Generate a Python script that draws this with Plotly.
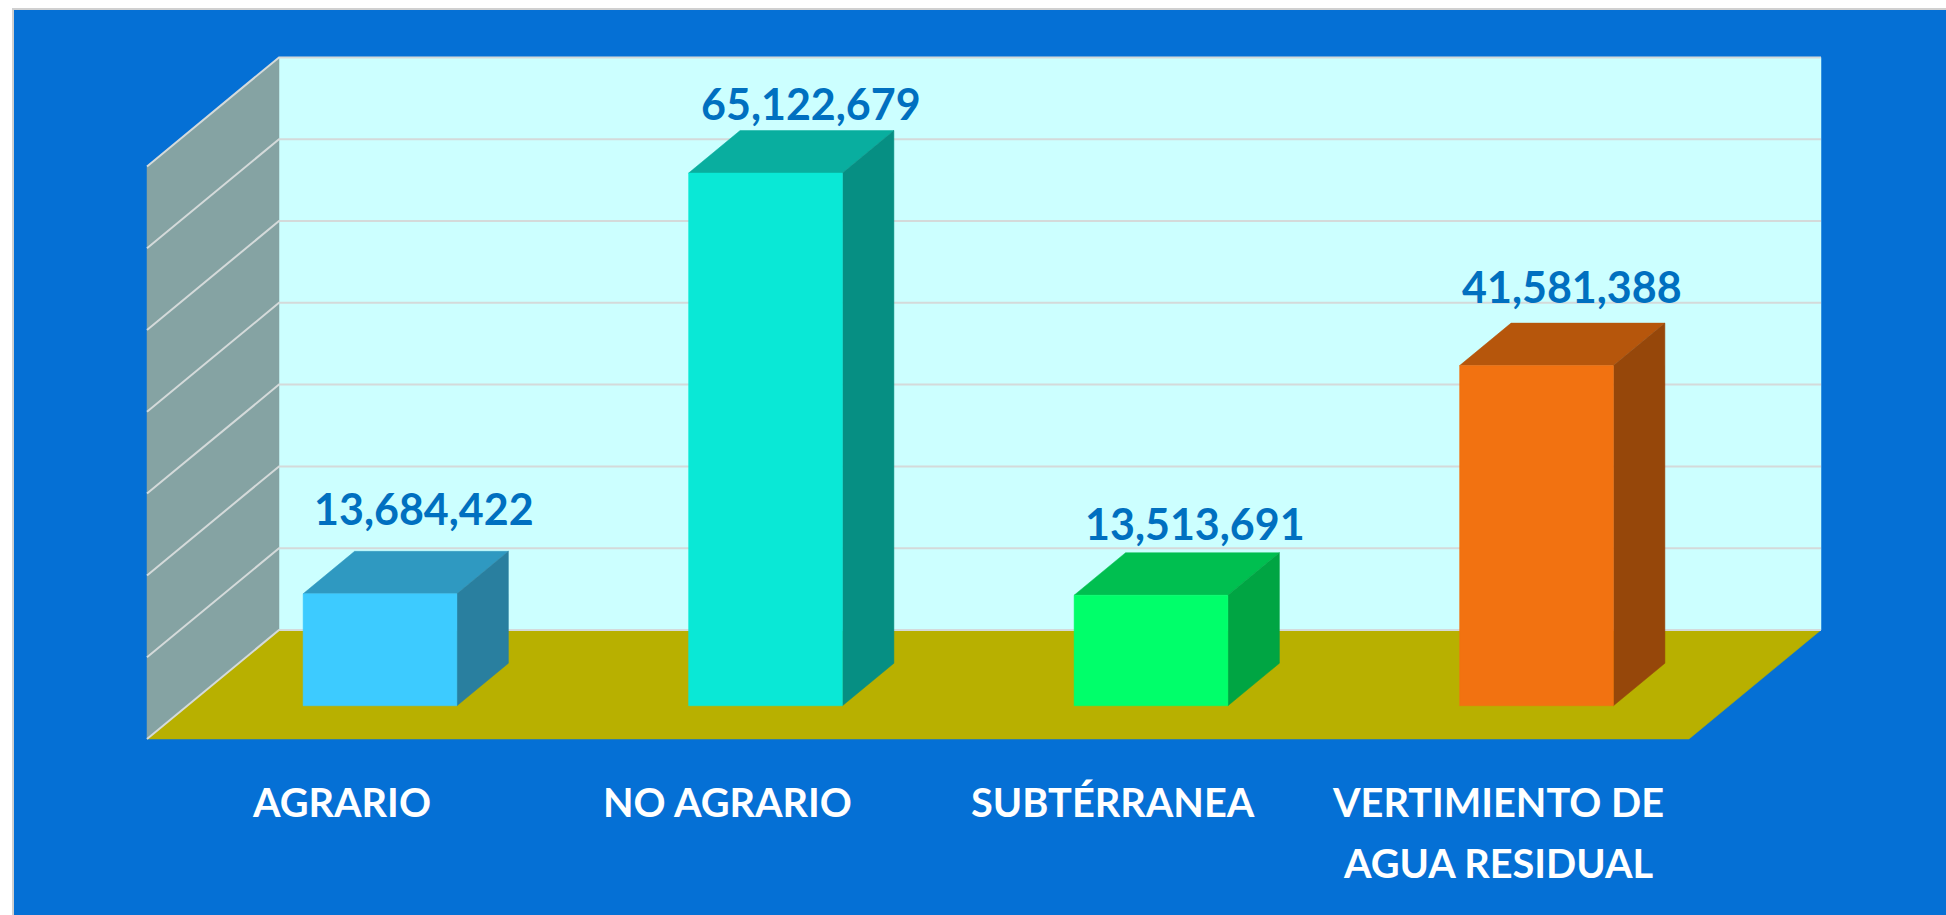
import plotly.graph_objects as go

categories = ["AGRARIO", "NO AGRARIO", "SUBTÉRRANEA", "VERTIMIENTO DE\nAGUA RESIDUAL"]
values = [13684422, 65122679, 13513691, 41581388]
value_labels = ["13,684,422", "65,122,679", "13,513,691", "41,581,388"]
gridline_values = [0, 10e6, 20e6, 30e6, 40e6, 50e6, 60e6, 70e6]

front_colors = ["#3DCBFF", "#0AE8D6", "#00FF6A", "#F27211"]
top_colors = ["#2F99C1", "#09AE9F", "#00BF50", "#B6560C"]
side_colors = ["#297F9F", "#068F83", "#00A543", "#96470A"]

# picture geometry (pixels), used only to fix the axis ranges and the oblique projection
W, H = 1946, 915
LEFT, TOP = 14, 10
X0_PX, Y0_PX = 147, 739          # front-left corner of the floor
PX_PER_CAT = 385.5
PX_PER_VAL = 8.18e-6
DEPTH_DX = 132 / PX_PER_CAT      # category units for a full depth
DEPTH_DY = 109 / PX_PER_VAL      # value units for a full depth
BAR_WIDTH = 0.399
BAR_D0, BAR_D1 = 0.305, 0.695
N = len(categories)
VMAX = gridline_values[-1]

BLUE = "#0570D5"
WALL = "#CCFFFF"
SIDEWALL = "#85A3A3"
FLOOR = "#B8B000"
GRID = "#D4DADA"
LABEL = "#0070C0"
FONT = "Lato"


def P(cat, val, depth):
    return cat + depth * DEPTH_DX, val + depth * DEPTH_DY


def poly(points, color):
    xs, ys = zip(*[P(*p) for p in points + points[:1]])
    return go.Scatter(x=xs, y=ys, mode="lines", fill="toself", fillcolor=color,
                      line=dict(color=color, width=0.5), hoverinfo="skip", showlegend=False)


fig = go.Figure()
fig.add_trace(poly([(0, 0, 1), (N, 0, 1), (N, VMAX, 1), (0, VMAX, 1)], WALL))
fig.add_trace(poly([(0, 0, 0), (0, 0, 1), (0, VMAX, 1), (0, VMAX, 0)], SIDEWALL))
fig.add_trace(poly([(0, 0, 0), (N, 0, 0), (N, 0, 1), (0, 0, 1)], FLOOR))

for g in gridline_values:
    xs, ys = zip(P(0, g, 0), P(0, g, 1), P(N, g, 1))
    fig.add_trace(go.Scatter(x=xs, y=ys, mode="lines", line=dict(color=GRID, width=2),
                             hoverinfo="skip", showlegend=False))

for i, v in enumerate(values):
    a, b = i + 0.5 - BAR_WIDTH / 2, i + 0.5 + BAR_WIDTH / 2
    fig.add_trace(poly([(a, v, BAR_D0), (b, v, BAR_D0), (b, v, BAR_D1), (a, v, BAR_D1)], top_colors[i]))
    fig.add_trace(poly([(b, 0, BAR_D0), (b, 0, BAR_D1), (b, v, BAR_D1), (b, v, BAR_D0)], side_colors[i]))
    fig.add_trace(poly([(a, 0, BAR_D0), (b, 0, BAR_D0), (b, v, BAR_D0), (a, v, BAR_D0)], front_colors[i]))

label_shift_x = [-7.5, -6, -7, -15.5]
label_shift_y = [43, 27, 29, 37]
annotations = []
for i, v in enumerate(values):
    x, y = P(i + 0.5, v, BAR_D1)
    annotations.append(dict(x=x, y=y, xref="x", yref="y", text=value_labels[i], showarrow=False,
                            xanchor="center", yanchor="middle",
                            xshift=label_shift_x[i], yshift=label_shift_y[i],
                            font=dict(family=FONT, size=43, color=LABEL, weight="bold")))
    for k, line in enumerate(categories[i].split("\n")):
        annotations.append(dict(x=i + 0.5, y=0, xref="x", yref="y", text=line, showarrow=False,
                                xanchor="center", yanchor="middle",
                                xshift=2, yshift=-62 - 61 * k,
                                font=dict(family=FONT, size=39.7, color="white", weight="bold")))

fig.update_layout(
    width=W, height=H,
    margin=dict(l=LEFT, t=TOP, r=0, b=0, pad=0),
    paper_bgcolor="white", plot_bgcolor=BLUE,
    showlegend=False,
    annotations=annotations,
    xaxis=dict(range=[(LEFT - X0_PX) / PX_PER_CAT, (W - X0_PX) / PX_PER_CAT], showgrid=False,
               zeroline=False, showticklabels=False, ticks="", side="top",
               showline=True, linecolor="#D0D0D0", linewidth=2, fixedrange=True),
    yaxis=dict(range=[(Y0_PX - H) / PX_PER_VAL, (Y0_PX - TOP) / PX_PER_VAL], showgrid=False,
               zeroline=False, showticklabels=False, ticks="",
               showline=True, linecolor="#D0D0D0", linewidth=2, fixedrange=True),
)
fig.write_html("out.html", config=dict(displayModeBar=False, responsive=False),
               post_script="document.body.style.margin='0';document.body.style.overflow='hidden';")
